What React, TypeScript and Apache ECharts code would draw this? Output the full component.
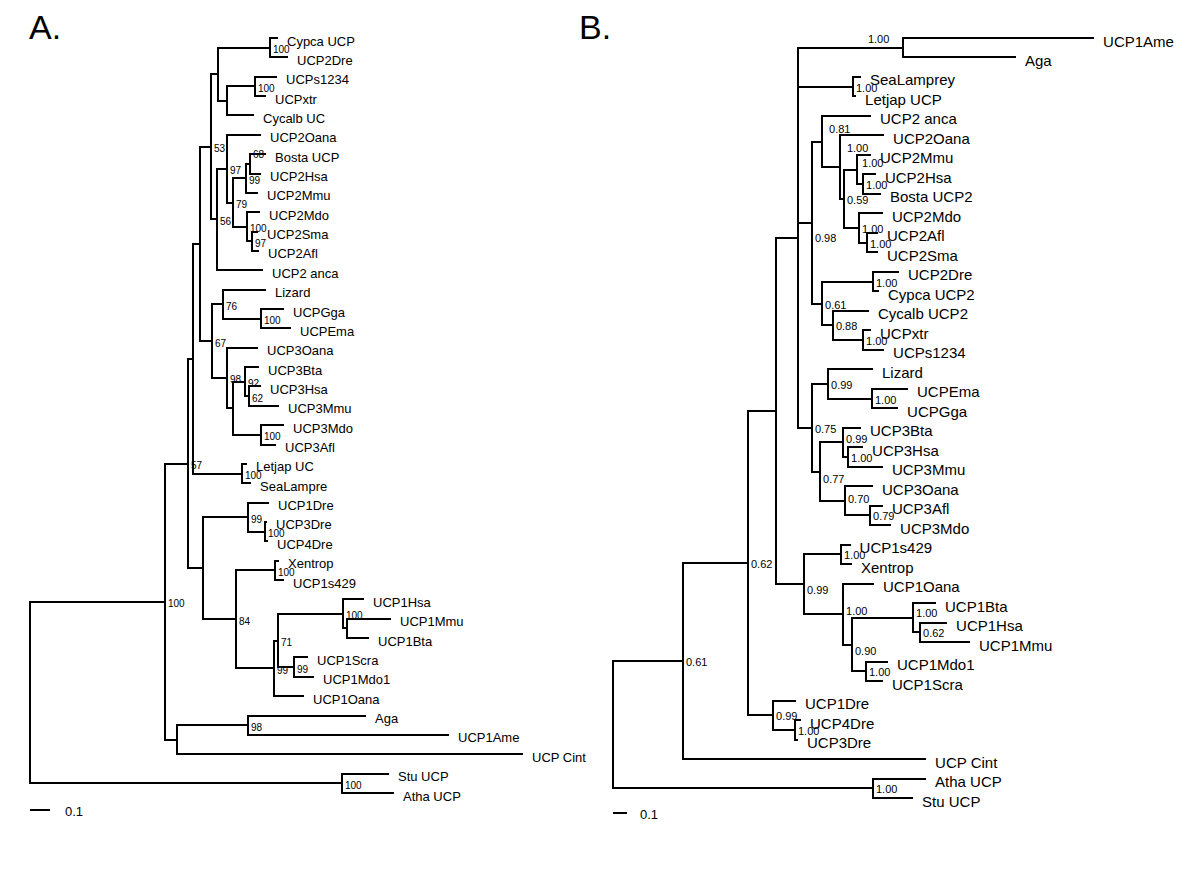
import React, { useEffect, useRef } from "react";
import * as echarts from "echarts";

const FONT = "'Liberation Sans', Arial, Helvetica, sans-serif";

// ---------------- Tree A (bootstrap values) ----------------
const leavesA = [
  "Cypca UCP", "UCP2Dre", "UCPs1234", "UCPxtr", "Cycalb UC", "UCP2Oana", "Bosta UCP", "UCP2Hsa",
  "UCP2Mmu", "UCP2Mdo", "UCP2Sma", "UCP2Afl", "UCP2 anca", "Lizard", "UCPGga", "UCPEma",
  "UCP3Oana", "UCP3Bta", "UCP3Hsa", "UCP3Mmu", "UCP3Mdo", "UCP3Afl", "Letjap UC", "SeaLampre",
  "UCP1Dre", "UCP3Dre", "UCP4Dre", "Xentrop", "UCP1s429", "UCP1Hsa", "UCP1Mmu", "UCP1Bta",
  "UCP1Scra", "UCP1Mdo1", "UCP1Oana", "Aga", "UCP1Ame", "UCP Cint", "Stu UCP", "Atha UCP",
];
const tipDepthA = [
  1.235, 1.285, 1.23, 1.175, 1.115, 1.15, 1.175, 1.15,
  1.135, 1.145, 1.135, 1.14, 1.16, 1.175, 1.265, 1.3,
  1.135, 1.14, 1.15, 1.24, 1.265, 1.225, 1.08, 1.1,
  1.19, 1.18, 1.185, 1.24, 1.265, 1.665, 1.8, 1.69,
  1.385, 1.415, 1.365, 1.675, 2.09, 2.46, 1.79, 1.815,
];
const leafParentA = [
  "CD", "CD", "XU", "XU", "F2", "M2", "YY", "YY",
  "Y", "Z", "ZZ", "ZZ", "N56", "N76", "GE", "GE",
  "N98", "BHM", "HM", "HM", "MA", "MA", "LS", "LS",
  "DRE", "D34", "D34", "XS", "XS", "MAM", "MB", "MB",
  "SM", "SM", "N99b", "AG", "AG", "T", "OUT", "OUT",
];
// [node, parent, depth, support]
const nodesA: [string, string, number, string][] = [
  ["ROOT", "", 0, ""],
  ["N1", "ROOT", 0.675, "100"],
  ["OUT", "ROOT", 1.56, "100"],
  ["R", "N1", 0.79, "57"],
  ["T", "N1", 0.735, ""],
  ["AG", "T", 1.09, "98"],
  ["Q", "R", 0.815, ""],
  ["S", "R", 0.865, ""],
  ["P", "Q", 0.85, ""],
  ["LS", "Q", 1.06, "100"],
  ["N53", "P", 0.905, "53"],
  ["N67", "P", 0.91, "67"],
  ["F1", "N53", 0.94, ""],
  ["CD", "F1", 1.2, "100"],
  ["F2", "F1", 0.985, ""],
  ["XU", "F2", 1.125, "100"],
  ["N56", "N53", 0.935, "56"],
  ["M2", "N56", 0.985, "97"],
  ["X", "M2", 1.015, "79"],
  ["Y", "X", 1.08, "99"],
  ["YY", "Y", 1.1, "68"],
  ["Z", "X", 1.085, "100"],
  ["ZZ", "Z", 1.11, "97"],
  ["N76", "N67", 0.965, "76"],
  ["GE", "N76", 1.155, "100"],
  ["N98", "N67", 0.985, "98"],
  ["U3b", "N98", 1.015, ""],
  ["BHM", "U3b", 1.075, "92"],
  ["HM", "BHM", 1.095, "62"],
  ["MA", "U3b", 1.155, "100"],
  ["DRE", "S", 1.09, "99"],
  ["D34", "DRE", 1.175, "100"],
  ["N84", "S", 1.03, "84"],
  ["XS", "N84", 1.225, "100"],
  ["N99b", "N84", 1.22, "99"],
  ["N71", "N99b", 1.24, "71"],
  ["MAM", "N71", 1.565, "100"],
  ["MB", "MAM", 1.585, ""],
  ["SM", "N71", 1.32, "99"],
];

// ---------------- Tree B (posterior probabilities) ----------------
const leavesB = [
  "UCP1Ame", "Aga", "SeaLamprey", "Letjap UCP", "UCP2 anca", "UCP2Oana", "UCP2Mmu", "UCP2Hsa",
  "Bosta UCP2", "UCP2Mdo", "UCP2Afl", "UCP2Sma", "UCP2Dre", "Cypca UCP2", "Cycalb UCP2", "UCPxtr",
  "UCPs1234", "Lizard", "UCPEma", "UCPGga", "UCP3Bta", "UCP3Hsa", "UCP3Mmu", "UCP3Oana",
  "UCP3Afl", "UCP3Mdo", "UCP1s429", "Xentrop", "UCP1Oana", "UCP1Bta", "UCP1Hsa", "UCP1Mmu",
  "UCP1Mdo1", "UCP1Scra", "UCP1Dre", "UCP4Dre", "UCP3Dre", "UCP Cint", "Atha UCP", "Stu UCP",
];
const tipDepthB = [
  3.429, 2.871, 1.764, 1.729, 1.836, 1.929, 1.836, 1.871,
  1.907, 1.921, 1.886, 1.886, 2.036, 1.893, 1.821, 1.836,
  1.929, 1.85, 2.1, 2.029, 1.764, 1.779, 1.921, 1.85,
  1.921, 1.979, 1.69, 1.7, 1.857, 2.3, 2.379, 2.543,
  1.957, 1.921, 1.3, 1.336, 1.314, 2.229, 2.229, 2.136,
];
const leafParentB = [
  "AA", "AA", "SL", "SL", "U2M", "N840", "MHB", "HB",
  "HB", "MAS", "AS", "AS", "DC", "DC", "N088", "XU",
  "XU", "LZ", "EG", "EG", "BHM", "HM3", "HM3", "OAM",
  "AM", "AM", "XS", "XS", "U1", "MAM", "HM1", "HM1",
  "MS", "MS", "DRE", "D34", "D34", "BIG", "OUT", "OUT",
];
const nodesB: [string, string, number, string][] = [
  ["ROOT", "", 0, ""],
  ["OUT", "ROOT", 1.857, "1.00"],
  ["BIG", "ROOT", 0.5, "0.61"],
  ["N62", "BIG", 0.964, "0.62"],
  ["DRE", "N62", 1.143, "0.99"],
  ["D34", "DRE", 1.3, "1.00"],
  ["NY", "N62", 1.164, ""],
  ["NTOP", "NY", 1.321, ""],
  ["N099", "NY", 1.364, "0.99"],
  ["XS", "N099", 1.629, "1.00"],
  ["U1", "N099", 1.643, "1.00"],
  ["UM", "U1", 1.707, "0.90"],
  ["MAM", "UM", 2.143, "1.00"],
  ["HM1", "MAM", 2.193, "0.62"],
  ["MS", "UM", 1.807, "1.00"],
  ["AA", "NTOP", 2.071, "1.00"],
  ["SL", "NTOP", 1.714, "1.00"],
  ["N098", "NTOP", 1.421, "0.98"],
  ["U2M", "N098", 1.493, "0.81"],
  ["N840", "U2M", 1.621, "1.00"],
  ["N844", "N840", 1.65, "0.59"],
  ["MHB", "N844", 1.743, "1.00"],
  ["HB", "MHB", 1.786, "1.00"],
  ["MAS", "N844", 1.757, "1.00"],
  ["AS", "MAS", 1.814, "1.00"],
  ["FISH", "N098", 1.493, "0.61"],
  ["DC", "FISH", 1.857, "1.00"],
  ["N088", "FISH", 1.571, "0.88"],
  ["XU", "N088", 1.786, "1.00"],
  ["N075", "NTOP", 1.421, "0.75"],
  ["LZ", "N075", 1.536, "0.99"],
  ["EG", "LZ", 1.85, "1.00"],
  ["U3", "N075", 1.479, "0.77"],
  ["BHM", "U3", 1.643, "0.99"],
  ["HM3", "BHM", 1.679, "1.00"],
  ["OAM", "U3", 1.657, "0.70"],
  ["AM", "OAM", 1.836, "0.79"],
];

const scaleBarLength = 0.1;
const scaleBarLabel = "0.1";

// label nudges (pixels), styling only
const nudgeA: Record<string, [number, number]> = { YY: [0, -11] };
const nudgeB: Record<string, [number, number]> = {
  AA: [-38, -10], U2M: [4, -14], N840: [4, -20], N098: [0, 14], MHB: [2, -8],
  U1: [0, -4], MAM: [0, -6], BHM: [0, -4], U3: [0, 6], UM: [0, 5], N099: [0, 5], OAM: [0, -3],
};

function buildTree(
  leaves: string[],
  tipDepth: number[],
  leafParent: string[],
  nodes: [string, string, number, string][]
) {
  const depth: Record<string, number> = {};
  const parent: Record<string, string> = {};
  const kids: Record<string, string[]> = {};
  const y: Record<string, number> = {};
  leaves.forEach((name, i) => {
    depth[name] = tipDepth[i];
    parent[name] = leafParent[i];
    y[name] = i;
    (kids[leafParent[i]] = kids[leafParent[i]] || []).push(name);
  });
  nodes.forEach(([id, p, d]) => {
    depth[id] = d;
    parent[id] = p;
    if (p) (kids[p] = kids[p] || []).push(id);
  });
  const getY = (id: string): number => {
    if (y[id] !== undefined) return y[id];
    const ys = (kids[id] || []).map(getY);
    y[id] = (Math.min(...ys) + Math.max(...ys)) / 2;
    return y[id];
  };
  const segs: number[][] = [];
  const all = [...leaves, ...nodes.map((n) => n[0])];
  all.forEach((id) => {
    const yy = getY(id);
    const p = parent[id];
    if (p) segs.push([depth[p], yy, depth[id], yy]);
    const k = kids[id];
    if (k && k.length) {
      const ys = k.map(getY);
      segs.push([depth[id], Math.min(...ys), depth[id], Math.max(...ys)]);
    }
  });
  const supports = nodes
    .filter((n) => n[3])
    .map((n) => ({ id: n[0], x: depth[n[0]], y: getY(n[0]), text: n[3] }));
  const leafPts = leaves.map((_, i) => [tipDepth[i], i]);
  return { segs, supports, leafPts };
}

const r = (v: number) => Math.round(v);

function treeSeries(
  idx: number,
  leaves: string[],
  tipDepth: number[],
  leafParent: string[],
  nodes: [string, string, number, string][],
  cfg: { leafSize: number; supSize: number; supDx: number; supDy: number; nudge: Record<string, [number, number]>; barY: number; barTextDx: number }
) {
  const t = buildTree(leaves, tipDepth, leafParent, nodes);
  return [
    {
      type: "custom",
      xAxisIndex: idx,
      yAxisIndex: idx,
      silent: true,
      data: t.segs,
      renderItem: (_p: any, api: any) => {
        const a = api.coord([api.value(0), api.value(1)]);
        const b = api.coord([api.value(2), api.value(3)]);
        return {
          type: "line",
          shape: { x1: r(a[0]), y1: r(a[1]), x2: r(b[0]), y2: r(b[1]) },
          style: { stroke: "#000", lineWidth: 2, lineCap: "square" },
        };
      },
    },
    {
      type: "custom",
      xAxisIndex: idx,
      yAxisIndex: idx,
      silent: true,
      data: t.leafPts,
      renderItem: (p: any, api: any) => {
        const c = api.coord([api.value(0), api.value(1)]);
        return {
          type: "text",
          x: c[0] + 10,
          y: c[1] + 3,
          style: {
            text: leaves[p.dataIndex],
            fill: "#000",
            fontSize: cfg.leafSize,
            fontFamily: FONT,
            align: "left",
            verticalAlign: "middle",
          },
        };
      },
    },
    {
      type: "custom",
      xAxisIndex: idx,
      yAxisIndex: idx,
      silent: true,
      data: t.supports.map((s) => [s.x, s.y]),
      renderItem: (p: any, api: any) => {
        const s = t.supports[p.dataIndex];
        const c = api.coord([api.value(0), api.value(1)]);
        const n = cfg.nudge[s.id] || [0, 0];
        return {
          type: "text",
          x: c[0] + cfg.supDx + n[0],
          y: c[1] + cfg.supDy + n[1],
          style: {
            text: s.text,
            fill: "#000",
            fontSize: cfg.supSize,
            fontFamily: FONT,
            align: "left",
            verticalAlign: "middle",
          },
        };
      },
    },
    {
      type: "custom",
      xAxisIndex: idx,
      yAxisIndex: idx,
      silent: true,
      data: [[0, scaleBarLength]],
      renderItem: (_p: any, api: any) => {
        const a = api.coord([api.value(0), 0]);
        const b = api.coord([api.value(1), 0]);
        return {
          type: "group",
          children: [
            {
              type: "line",
              shape: { x1: r(a[0]), y1: cfg.barY, x2: r(b[0]), y2: cfg.barY },
              style: { stroke: "#000", lineWidth: 2 },
            },
            {
              type: "text",
              x: a[0] + cfg.barTextDx,
              y: cfg.barY + 1,
              style: {
                text: scaleBarLabel,
                fill: "#000",
                fontSize: 13,
                fontFamily: FONT,
                align: "left",
                verticalAlign: "middle",
              },
            },
          ],
        };
      },
    },
  ];
}

export default function App() {
  const ref = useRef<HTMLDivElement>(null);
  useEffect(() => {
    if (!ref.current) return;
    const chart = echarts.init(ref.current, undefined, { renderer: "svg" });
    chart.setOption({
      animation: false,
      backgroundColor: "#fff",
      grid: [
        { left: 30, top: 38, width: 560, height: 755 },
        { left: 613, top: 38, width: 560, height: 760 },
      ],
      xAxis: [
        { gridIndex: 0, type: "value", min: 0, max: 2.8, show: false },
        { gridIndex: 1, type: "value", min: 0, max: 4, show: false },
      ],
      yAxis: [
        { gridIndex: 0, type: "value", min: 0, max: 39, inverse: true, show: false },
        { gridIndex: 1, type: "value", min: 0, max: 39, inverse: true, show: false },
      ],
      graphic: [
        { type: "text", left: 29, top: 10, style: { text: "A.", fontSize: 34, fontFamily: FONT, fill: "#000" } },
        { type: "text", left: 579, top: 10, style: { text: "B.", fontSize: 34, fontFamily: FONT, fill: "#000" } },
      ],
      series: [
        ...treeSeries(0, leavesA, tipDepthA, leafParentA, nodesA, {
          leafSize: 13, supSize: 10, supDx: 3, supDy: 2, nudge: nudgeA, barY: 810, barTextDx: 35,
        }),
        ...treeSeries(1, leavesB, tipDepthB, leafParentB, nodesB, {
          leafSize: 15, supSize: 11, supDx: 3, supDy: 1, nudge: nudgeB, barY: 813, barTextDx: 27,
        }),
      ],
    });
    return () => chart.dispose();
  }, []);
  return (
    <div
      ref={ref}
      style={{ position: "absolute", left: 0, top: 0, width: 1200, height: 879, background: "#fff" }}
    />
  );
}
